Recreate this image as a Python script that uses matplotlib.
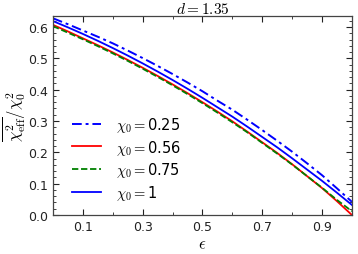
import matplotlib
matplotlib.use("Agg")
import matplotlib.pyplot as plt
from matplotlib.ticker import MultipleLocator, FixedLocator

plt.rcParams['mathtext.fontset'] = 'cm'
plt.rcParams['font.family'] = ['DejaVu Sans']

eps = [0.0, 0.05, 0.1, 0.15, 0.2, 0.25, 0.3, 0.35, 0.4, 0.45, 0.5,
       0.55, 0.6, 0.65, 0.7, 0.75, 0.8, 0.85, 0.9, 0.95, 1.0]
chi_025 = [0.628, 0.609, 0.589, 0.569, 0.548, 0.525, 0.501, 0.476, 0.450, 0.423, 0.395,
           0.365, 0.336, 0.304, 0.271, 0.237, 0.202, 0.165, 0.127, 0.085, 0.042]
chi_056 = [0.607, 0.586, 0.564, 0.542, 0.519, 0.495, 0.470, 0.444, 0.417, 0.389, 0.360,
           0.330, 0.299, 0.266, 0.232, 0.198, 0.162, 0.124, 0.086, 0.044, 0.000]
chi_075 = [0.603, 0.582, 0.561, 0.539, 0.516, 0.492, 0.467, 0.441, 0.414, 0.386, 0.357,
           0.327, 0.296, 0.264, 0.230, 0.196, 0.161, 0.124, 0.087, 0.048, 0.012]
chi_1 = [0.619, 0.599, 0.578, 0.556, 0.533, 0.509, 0.484, 0.458, 0.431, 0.403, 0.374,
         0.344, 0.314, 0.282, 0.249, 0.216, 0.181, 0.145, 0.109, 0.071, 0.032]
labels = [r'$\chi_0=$0.25', r'$\chi_0=$0.56', r'$\chi_0=$0.75', r'$\chi_0=$1']
xticks = [0.1, 0.3, 0.5, 0.7, 0.9]
yticks = [0.0, 0.1, 0.2, 0.3, 0.4, 0.5, 0.6]

fig = plt.figure(figsize=(3.58, 2.55), dpi=100)
ax = fig.add_axes([0.148, 0.153, 0.835, 0.780])

ax.plot(eps, chi_025, color='blue', ls='-.', lw=1.4, label=labels[0], dashes=(5, 2, 1.5, 2))
ax.plot(eps, chi_056, color='red', ls='-', lw=1.3, label=labels[1])
ax.plot(eps, chi_075, color='green', ls='--', lw=1.3, label=labels[2], dashes=(3.5, 1.5))
ax.plot(eps, chi_1, color='blue', ls='-', lw=1.3, label=labels[3])

ax.set_xlim(0, 1)
ax.set_ylim(0, 0.635)
ax.xaxis.set_major_locator(FixedLocator(xticks))
ax.xaxis.set_minor_locator(FixedLocator([0.2, 0.4, 0.6, 0.8]))
ax.yaxis.set_major_locator(FixedLocator(yticks))
ax.yaxis.set_minor_locator(MultipleLocator(0.02))
ax.set_xticklabels([f'{t:.1f}' for t in xticks])
ax.set_yticklabels([f'{t:.1f}' for t in yticks])
ax.tick_params(which='both', direction='in', top=True, right=True, labelsize=9, colors='#222222')
ax.tick_params(which='major', length=4, width=0.8)
ax.tick_params(which='minor', length=2, width=0.6)
for s in ax.spines.values():
    s.set_color('#444444')
    s.set_linewidth(0.9)

ax.set_title(r'$d=1.35$', fontsize=11, pad=2)
ax.set_xlabel(r'$\epsilon$', fontsize=12, labelpad=1)
ax.set_ylabel(r'$\overline{\chi^2_{\rm eff}}/\chi_0^2$', fontsize=12, labelpad=0)

ax.legend(loc='lower left', frameon=False, fontsize=10.5, handlelength=2.0,
          handletextpad=1.0, labelspacing=0.25, bbox_to_anchor=(0.02, 0.0))

fig.savefig('out.png', dpi=100)
